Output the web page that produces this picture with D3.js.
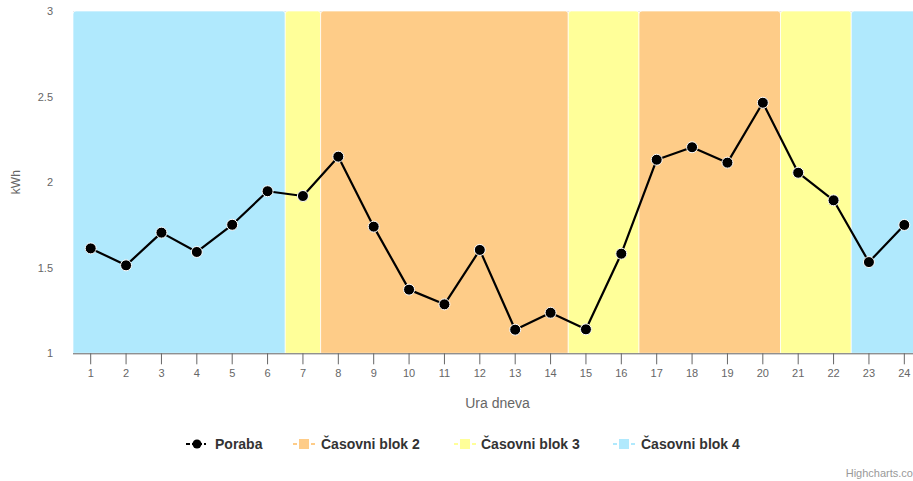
<!DOCTYPE html>
<html>
<head>
<meta charset="utf-8">
<script src="https://cdn.jsdelivr.net/npm/d3@7/dist/d3.min.js"></script>
<style>
  html, body { margin: 0; padding: 0; background: #fff; }
  svg { display: block; font-family: "Liberation Sans", Arial, Helvetica, sans-serif; }
</style>
</head>
<body>
<svg id="chart" width="913" height="481"></svg>
<script>
// ---- data ----
const hours = [1,2,3,4,5,6,7,8,9,10,11,12,13,14,15,16,17,18,19,20,21,22,23,24];
const poraba = [1.613,1.514,1.705,1.592,1.751,1.947,1.919,2.149,1.740,1.372,1.286,1.604,
                1.138,1.237,1.140,1.582,2.131,2.204,2.114,2.464,2.055,1.894,1.533,1.750];
const blockOfHour = [4,4,4,4,4,4,3,2,2,2,2,2,2,2,3,3,2,2,2,2,3,3,4,4];
const blockNames = {2: "Časovni blok 2", 3: "Časovni blok 3", 4: "Časovni blok 4"};
const blockColors = {2: "#fecc88", 3: "#ffff99", 4: "#b0e9fd"};
const yTicks = [1, 1.5, 2, 2.5, 3];
const yTickLabels = ["1", "1.5", "2", "2.5", "3"];
const seriesName = "Poraba";
const xTitle = "Ura dneva";
const yTitle = "kWh";

(function () {
// ---- layout ----
const svg = d3.select("#chart");
const pl = 73, pr = 922, pt = 11, pb = 353.3;

const x = d3.scaleBand().domain(hours).range([pl, pr]).padding(0);
const y = d3.scaleLinear().domain([1, 3]).range([pb, pt]);

// gridlines
svg.append("g").selectAll("line").data(yTicks).join("line")
  .attr("x1", pl).attr("x2", pr)
  .attr("y1", d => Math.round(y(d)) + 0.5).attr("y2", d => Math.round(y(d)) + 0.5)
  .attr("stroke", "#e6e6e6").attr("stroke-width", 1);

// block runs
const runs = [];
hours.forEach((h, i) => {
  const b = blockOfHour[i];
  if (runs.length && runs[runs.length - 1].block === b) runs[runs.length - 1].end = h;
  else runs.push({block: b, start: h, end: h});
});
const r = 3;
svg.append("g").selectAll("path").data(runs).join("path")
  .attr("d", d => {
    const x0 = x(d.start), x1 = x(d.end) + x.bandwidth();
    const y0 = y(3), y1 = y(1);
    return `M${x0},${y1} L${x0},${y0 + r} Q${x0},${y0} ${x0 + r},${y0} L${x1 - r},${y0} Q${x1},${y0} ${x1},${y0 + r} L${x1},${y1} Z`;
  })
  .attr("fill", d => blockColors[d.block])
  .attr("stroke", "#ffffff").attr("stroke-width", 0.7);

// x axis
const xAxis = d3.axisBottom(x).tickSize(11).tickPadding(5);
const gx = svg.append("g").attr("transform", `translate(0,${pb})`).call(xAxis);
gx.select(".domain").attr("stroke", "#666").attr("d", `M${pl},0.5H${pr}`);
gx.selectAll(".tick line").attr("stroke", "#666");
gx.selectAll(".tick text").attr("fill", "#666").attr("font-size", 11).attr("font-family", "Liberation Sans, Arial, sans-serif");

// y axis labels
const ya = d3.axisLeft(y).tickValues(yTicks).tickFormat((d, i) => yTickLabels[i]).tickSize(0).tickPadding(20);
const gy = svg.append("g").attr("transform", `translate(${pl},0)`).call(ya);
gy.select(".domain").remove();
gy.selectAll(".tick text").attr("fill", "#666").attr("font-size", 11).attr("font-family", "Liberation Sans, Arial, sans-serif");

// axis titles
svg.append("text").attr("x", (pl + pr) / 2).attr("y", 408).attr("text-anchor", "middle")
  .attr("fill", "#666").attr("font-size", 14).text(xTitle);
svg.append("text").attr("transform", `translate(20,${(pt + pb) / 2}) rotate(-90)`)
  .attr("text-anchor", "middle").attr("fill", "#666").attr("font-size", 12).text(yTitle);

// line
const line = d3.line().x((d, i) => x(hours[i]) + x.bandwidth() / 2).y(d => y(d));
svg.append("path").datum(poraba).attr("d", line).attr("fill", "none")
  .attr("stroke", "#000").attr("stroke-width", 2.2).attr("stroke-linejoin", "round");
svg.append("g").selectAll("circle").data(poraba).join("circle")
  .attr("cx", (d, i) => x(hours[i]) + x.bandwidth() / 2).attr("cy", d => y(d))
  .attr("r", 5.5).attr("fill", "#000").attr("stroke", "#fff").attr("stroke-width", 1);

// legend
const legY = 444;
const legend = svg.append("g");
const items = [
  {name: seriesName, color: "#000", sx: 186, tx: 215, isLine: true},
  {name: blockNames[2], color: blockColors[2], sx: 293, tx: 321},
  {name: blockNames[3], color: blockColors[3], sx: 454, tx: 481},
  {name: blockNames[4], color: blockColors[4], sx: 613, tx: 641}
];
items.forEach(it => {
  if (it.isLine) {
    legend.append("line").attr("x1", it.sx).attr("x2", it.sx + 20).attr("y1", legY).attr("y2", legY)
      .attr("stroke", "#000").attr("stroke-width", 2).attr("stroke-dasharray", "4,2");
    legend.append("circle").attr("cx", it.sx + 11).attr("cy", legY).attr("r", 4.5).attr("fill", "#000");
  } else {
    legend.append("line").attr("x1", it.sx).attr("x2", it.sx + 22).attr("y1", legY).attr("y2", legY)
      .attr("stroke", it.color).attr("stroke-width", 2).attr("stroke-dasharray", "4,2");
    legend.append("rect").attr("x", it.sx + 6).attr("y", legY - 5).attr("width", 10).attr("height", 10)
      .attr("fill", it.color);
  }
  legend.append("text").attr("x", it.tx).attr("y", legY).attr("dy", "0.35em")
    .attr("fill", "#333").attr("font-size", 14).attr("font-weight", "bold").text(it.name);
});

// credits
svg.append("text").attr("x", 913).attr("y", 477).attr("text-anchor", "end")
  .attr("fill", "#999").attr("font-size", 11).text("Highcharts.co");
})();
</script>
</body>
</html>
